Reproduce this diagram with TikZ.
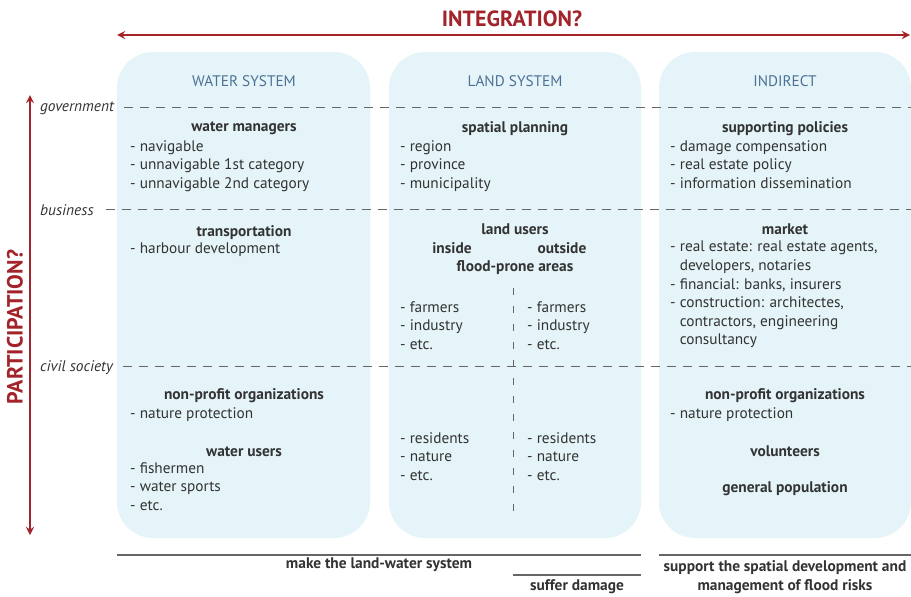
\documentclass[tikz,border=0pt]{standalone}
\usepackage{fontspec}
\setmainfont{PT Sans}
\usetikzlibrary{positioning}
\definecolor{axisred}{HTML}{A3232A}
\definecolor{boxblue}{HTML}{E5F4F8}
\definecolor{headblue}{HTML}{4C7194}
\definecolor{inkgray}{HTML}{333333}
\definecolor{linegray}{HTML}{666666}
\tikzset{
  system/.style={fill=boxblue, rounded corners=36pt},
  header/.style={text=headblue, font=\fontsize{15.3}{17}\selectfont},
  actor/.style={font=\fontsize{15.4}{17}\selectfont\bfseries, inner sep=0pt, yshift=-1.5pt},
  items/.style={anchor=north west, align=left, inner sep=0pt,
    font=\fontsize{15.3}{18.6}\selectfont},
  level/.style={linegray, line width=0.8pt, dash pattern=on 9pt off 7pt},
  tier/.style={anchor=west, inner sep=0pt, yshift=-1.5pt, font=\fontsize{15.4}{17}\selectfont\itshape},
  baseline rule/.style={linegray, line width=1.2pt},
  bottomtext/.style={font=\fontsize{15.4}{19}\selectfont\bfseries, align=center, inner sep=0pt}
}
\begin{document}
\begin{tikzpicture}[x=1pt, y=-1pt, >=stealth, text=inkgray]
  \useasboundingbox (0,0) rectangle (911,597);

  % Các trục
  \coordinate (intL) at (117,35);
  \coordinate (intR) at (910,35);
  \coordinate (parT) at (30,95);
  \coordinate (parB) at (30,535);
  \draw[<->, axisred, line width=2.6pt] (intL) -- (intR);
  \draw[<->, axisred, line width=2.6pt] (parT) -- (parB);
  \node[text=axisred, font=\fontsize{22}{24}\selectfont\bfseries] (integration) at (512,19) {INTEGRATION?};
  \node[text=axisred, font=\fontsize{22}{24}\selectfont\bfseries, rotate=90] (participation) at (15,327) {PARTICIPATION?};

  % Các khung
  \fill[system] (117,52) rectangle (370,538);
  \fill[system] (389,52) rectangle (641,538);
  \fill[system] (659,52) rectangle (911,538);
  \node[header] (water) at (244,81) {WATER SYSTEM};
  \node[header] (land) at (515,81) {LAND SYSTEM};
  \node[header] (indirect) at (785,81) {INDIRECT};

  % Các tầng
  \node[tier] (gov) at (40,107) {government};
  \node[tier] (bus) at (40,209) {business};
  \node[tier] (civ) at (40,366) {civil society};
  \coordinate (govR) at (911,107);
  \coordinate (busR) at (911,209);
  \coordinate (civR) at (911,366);
  \draw[level] ([xshift=10pt]gov.east |- govR) -- (govR);
  \draw[level] ([xshift=12pt]bus.east |- busR) -- (busR);
  \draw[level] ([xshift=10pt]civ.east |- civR) -- (civR);

  % Hệ thống nước
  \node[actor] (wm) at (244,127) {water managers};
  \node[items] (wmlist) at (130,140) {- navigable\\- unnavigable 1st category\\- unnavigable 2nd category};
  \node[actor] (tr) at (244,231) {transportation};
  \node[items] (trlist) at (130,243) {- harbour development};
  \node[actor] (npw) at (244,394) {non-profit organizations};
  \node[items] (npwlist) at (130,407) {- nature protection};
  \node[actor] (wu) at (244,450) {water users};
  \node[items] (wulist) at (130,462) {- fishermen\\- water sports\\- etc.};

  % Hệ thống đất
  \node[actor] (sp) at (515,127) {spatial planning};
  \node[items] (splist) at (400,140) {- region\\- province\\- municipality};
  \node[actor] (lu) at (515,228) {land users};
  \node[actor] (inside) at (452,247) {inside};
  \node[actor] (outside) at (562,247) {outside};
  \node[actor] (fpa) at (515,266) {flood-prone areas};
  \coordinate (splitT) at (513,288);
  \coordinate (splitB) at (513,522);
  \draw[level, dash pattern=on 7pt off 11pt] (splitT) -- (splitB);
  \node[items] (inbus) at (400,301) {- farmers\\- industry\\- etc.};
  \node[items] (outbus) at (527,301) {- farmers\\- industry\\- etc.};
  \node[items] (inciv) at (400,432) {- residents\\- nature\\- etc.};
  \node[items] (outciv) at (527,432) {- residents\\- nature\\- etc.};

  % Gián tiếp
  \node[actor] (pol) at (785,127) {supporting policies};
  \node[items] (pollist) at (670,140) {- damage compensation\\- real estate policy\\- information dissemination};
  \node[actor] (mkt) at (785,228) {market};
  \node[items] (mktlist) at (670,241) {- real estate: real estate agents,\\\phantom{- }developers, notaries\\- financial: banks, insurers\\- construction: architectes,\\\phantom{- }contractors, engineering\\\phantom{- }consultancy};
  \node[actor] (npi) at (785,394) {non-profit organizations};
  \node[items] (npilist) at (670,407) {- nature protection};
  \node[actor] (vol) at (785,450) {volunteers};
  \node[actor] (pop) at (785,487) {general population};

  % Chú thích dưới
  \coordinate (makeL) at (117,555);
  \coordinate (makeR) at (641,555);
  \coordinate (sufL) at (513,575);
  \coordinate (sufR) at (641,575);
  \coordinate (supL) at (659,555);
  \coordinate (supR) at (911,555);
  \draw[baseline rule] (makeL) -- (makeR);
  \draw[baseline rule] (sufL) -- (sufR);
  \draw[baseline rule] (supL) -- (supR);
  \node[bottomtext] (make) at (379,565) {make the land-water system};
  \node[bottomtext] (suffer) at (577,587) {suffer damage};
  \node[bottomtext] (support) at (785,577) {support the spatial development and\\management of flood risks};
\end{tikzpicture}
\end{document}
